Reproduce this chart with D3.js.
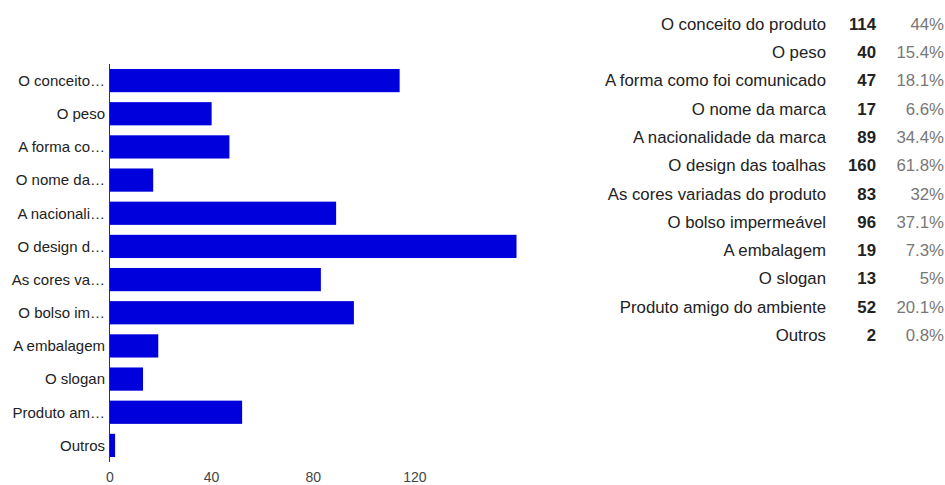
<!DOCTYPE html>
<html>
<head>
<meta charset="utf-8">
<script src="https://cdn.jsdelivr.net/npm/d3@7"></script>
<style>
  html, body { margin: 0; padding: 0; background: #fff; }
  svg { display: block; font-family: Arial, "Liberation Sans", sans-serif; }
</style>
</head>
<body>
<svg id="chart" width="945" height="485"></svg>
<script>
// Answers and their counts
const categories = [
  "O conceito do produto", "O peso", "A forma como foi comunicado", "O nome da marca",
  "A nacionalidade da marca", "O design das toalhas", "As cores variadas do produto",
  "O bolso impermeável", "A embalagem", "O slogan", "Produto amigo do ambiente", "Outros"
];
const shortLabels = [
  "O conceito…", "O peso", "A forma co…", "O nome da…", "A nacionali…", "O design d…",
  "As cores va…", "O bolso im…", "A embalagem", "O slogan", "Produto am…", "Outros"
];
const counts = [114, 40, 47, 17, 89, 160, 83, 96, 19, 13, 52, 2];
const percents = ["44%", "15.4%", "18.1%", "6.6%", "34.4%", "61.8%", "32%", "37.1%", "7.3%", "5%", "20.1%", "0.8%"];
const xTicks = [0, 40, 80, 120];

const svg = d3.select("#chart");

const x = d3.scaleLinear().domain([0, 160]).range([110, 516.5]);
const y = d3.scaleBand().domain(categories).range([64, 462]).paddingInner(0.3).paddingOuter(0.15);

// Bars
svg.append("g").selectAll("rect")
  .data(categories)
  .join("rect")
  .attr("x", x(0))
  .attr("y", d => y(d))
  .attr("width", (d, i) => x(counts[i]) - x(0))
  .attr("height", y.bandwidth())
  .attr("fill", "#0000dc");

// Category labels (truncated)
svg.append("g").selectAll("text")
  .data(categories)
  .join("text")
  .attr("x", 105)
  .attr("y", d => y(d) + y.bandwidth() / 2)
  .attr("dy", "0.35em")
  .attr("text-anchor", "end")
  .attr("font-size", 15)
  .attr("fill", "#222")
  .text((d, i) => shortLabels[i]);

// Vertical baseline
svg.append("line")
  .attr("x1", x(0) - 0.5).attr("x2", x(0) - 0.5)
  .attr("y1", 64).attr("y2", 462)
  .attr("stroke", "#333").attr("stroke-width", 1);

// Value axis tick labels
svg.append("g").selectAll("text")
  .data(xTicks)
  .join("text")
  .attr("x", d => x(d))
  .attr("y", 482)
  .attr("text-anchor", "middle")
  .attr("font-size", 14)
  .attr("fill", "#444")
  .text(d => d);

// Summary table
const rowY = d3.scalePoint().domain(categories).range([24, 335]);
const table = svg.append("g").attr("font-size", 16.8);
categories.forEach((c, i) => {
  const yy = rowY(c);
  table.append("text").attr("x", 826).attr("y", yy).attr("dy", "0.35em")
    .attr("text-anchor", "end").attr("fill", "#222").text(c);
  table.append("text").attr("x", 876).attr("y", yy).attr("dy", "0.35em")
    .attr("text-anchor", "end").attr("fill", "#222").attr("font-weight", "bold").text(counts[i]);
  table.append("text").attr("x", 944).attr("y", yy).attr("dy", "0.35em")
    .attr("text-anchor", "end").attr("fill", "#777").text(percents[i]);
});
</script>
</body>
</html>
